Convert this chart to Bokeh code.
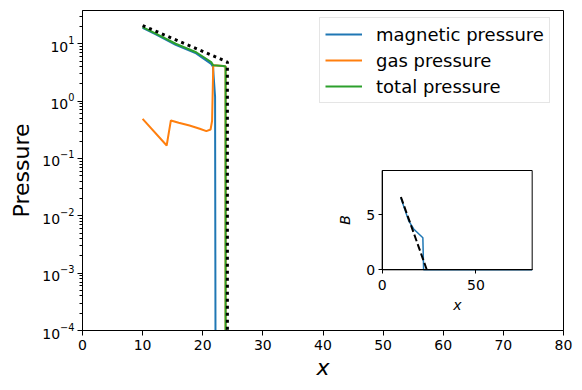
from bokeh.plotting import figure
from bokeh.models import (Range1d, LinearScale, LinearAxis, FixedTicker, LogTicker,
                          BoxAnnotation, Legend, LegendItem)
from bokeh.embed import file_html
from bokeh.resources import INLINE

# ---------------- data ----------------
x_ticks = [0, 10, 20, 30, 40, 50, 60, 70, 80]
inset_x_ticks = [0, 50]
inset_y_ticks = [0, 5]

x_mag = [10, 12.2, 15.5, 18.9, 21.4, 21.7, 22.05, 22.25, 80]
p_mag = [19.0, 14.6, 9.6, 6.8, 4.45, 4.0, 1.2, 1e-12, 1e-12]

x_gas = [10, 14.0, 14.7, 16.0, 17.8, 19.5, 20.6, 21.3, 21.55, 21.75, 23.4, 23.8, 23.8, 80]
p_gas = [0.49, 0.168, 0.46, 0.42, 0.375, 0.33, 0.30, 0.32, 0.45, 4.2, 4.1, 4.0, 1e-12, 1e-12]

x_tot = [10, 12.2, 15.5, 18.9, 21.4, 21.75, 23.4, 23.8, 23.8, 80]
p_tot = [19.5, 15.0, 10.0, 7.1, 4.8, 4.2, 4.1, 4.0, 1e-12, 1e-12]

x_ref = [10, 24.1, 24.1]
p_ref = [20.8, 4.8, 1e-12]

x_B = [10, 12, 14.1, 16.8, 21.7, 22.1, 80]
B = [6.5, 5.5, 4.46, 3.7, 2.9, 0.0, 0.0]

x_Bref = [10, 23.8]
B_ref = [6.6, 0.0]

BLUE, ORANGE, GREEN = "#1f77b4", "#ff7f0e", "#2ca02c"
FONT = "DejaVu Sans"

p = figure(frame_width=481, frame_height=320, x_range=Range1d(0, 80), y_range=Range1d(1e-4, 38),
           y_axis_type="log", output_backend="svg", toolbar_location=None,
           min_border_left=82, min_border_right=11, min_border_top=10, min_border_bottom=30)
p.grid.visible = False
p.outline_line_color = "black"
p.outline_line_width = 1
p.background_fill_color = "white"
p.border_fill_color = "white"

# main axes
xa = p.below[0]
xa.ticker = FixedTicker(ticks=x_ticks)
xa.axis_label = "x"
xa.axis_label_text_font_style = "italic"
xa.axis_label_text_font_size = "22px"
xa.axis_label_text_font = FONT
xa.axis_label_text_color = "black"
xa.axis_label_standoff = 2
xa.major_label_text_font = FONT
xa.major_label_text_font_size = "14px"
xa.major_label_text_color = "black"
xa.major_label_standoff = 4
xa.major_tick_in = 0
xa.major_tick_out = 5
xa.minor_tick_line_color = None
xa.axis_line_color = "black"
xa.major_tick_line_color = "black"

ya = p.left[0]
ya.ticker = LogTicker(num_minor_ticks=10)
ya.axis_label = "Pressure"
ya.axis_label_text_font_style = "normal"
ya.axis_label_text_font_size = "22px"
ya.axis_label_text_font = FONT
ya.axis_label_text_color = "black"
ya.axis_label_standoff = 5
ya.major_label_text_font = FONT
ya.major_label_text_font_size = "14px"
ya.major_label_text_color = "black"
ya.major_label_standoff = 3
ya.major_tick_in = 0
ya.major_tick_out = 5
ya.minor_tick_in = 0
ya.minor_tick_out = 3
ya.axis_line_color = "black"
ya.major_tick_line_color = "black"
ya.minor_tick_line_color = "black"

# main lines
r_mag = p.line(x_mag, p_mag, line_color=BLUE, line_width=2)
r_gas = p.line(x_gas, p_gas, line_color=ORANGE, line_width=2)
r_tot = p.line(x_tot, p_tot, line_color=GREEN, line_width=2)
p.line(x_ref, p_ref, line_color="black", line_width=3, line_dash="3 4")

legend = Legend(items=[LegendItem(label="magnetic pressure", renderers=[r_mag]),
                       LegendItem(label="gas pressure", renderers=[r_gas]),
                       LegendItem(label="total pressure", renderers=[r_tot])],
                location=(237, 227), padding=5, spacing=4,
                glyph_width=37, glyph_height=22, label_height=22, label_standoff=14,
                label_text_font=FONT, label_text_font_size="18px", label_text_color="black",
                border_line_color="#cccccc", border_line_width=1,
                background_fill_color="white", background_fill_alpha=0.8)
p.add_layout(legend)

# ---------------- inset ----------------
p.extra_x_ranges = {"ix": Range1d(-159.8, 96.7)}
p.extra_y_ranges = {"iy": Range1d(-5.5, 23.5)}
p.extra_x_scales = {"ix": LinearScale()}
p.extra_y_scales = {"iy": LinearScale()}

box = BoxAnnotation(left=0, right=80, bottom=0, top=9, x_range_name="ix", y_range_name="iy",
                    fill_color=None, line_color="black", line_width=1, line_alpha=1)
p.add_layout(box)

p.line(x_B, B, x_range_name="ix", y_range_name="iy", line_color=BLUE, line_width=1.5)
p.line(x_Bref, B_ref, x_range_name="ix", y_range_name="iy", line_color="black",
       line_width=2, line_dash="7 3")

ixa = LinearAxis(x_range_name="ix", y_range_name="iy", fixed_location=0, bounds=(0, 80),
                 ticker=FixedTicker(ticks=inset_x_ticks), axis_label="x")
iya = LinearAxis(x_range_name="ix", y_range_name="iy", fixed_location=0, bounds=(0, 9),
                 ticker=FixedTicker(ticks=inset_y_ticks), axis_label="B")
for ax in (ixa, iya):
    ax.axis_label_text_font_style = "italic"
    ax.axis_label_text_font_size = "14px"
    ax.axis_label_text_font = FONT
    ax.axis_label_text_color = "black"
    ax.major_label_text_font = FONT
    ax.major_label_text_font_size = "14px"
    ax.major_label_text_color = "black"
    ax.major_tick_in = 0
    ax.major_tick_out = 4
    ax.minor_tick_line_color = None
    ax.axis_line_color = "black"
    ax.major_tick_line_color = "black"
ixa.major_label_standoff = 6
ixa.axis_label_standoff = 4
iya.major_label_standoff = 3
iya.axis_label_standoff = 11
p.add_layout(ixa, "below")
p.add_layout(iya, "left")

open("out.html", "w").write(file_html(p, INLINE))
